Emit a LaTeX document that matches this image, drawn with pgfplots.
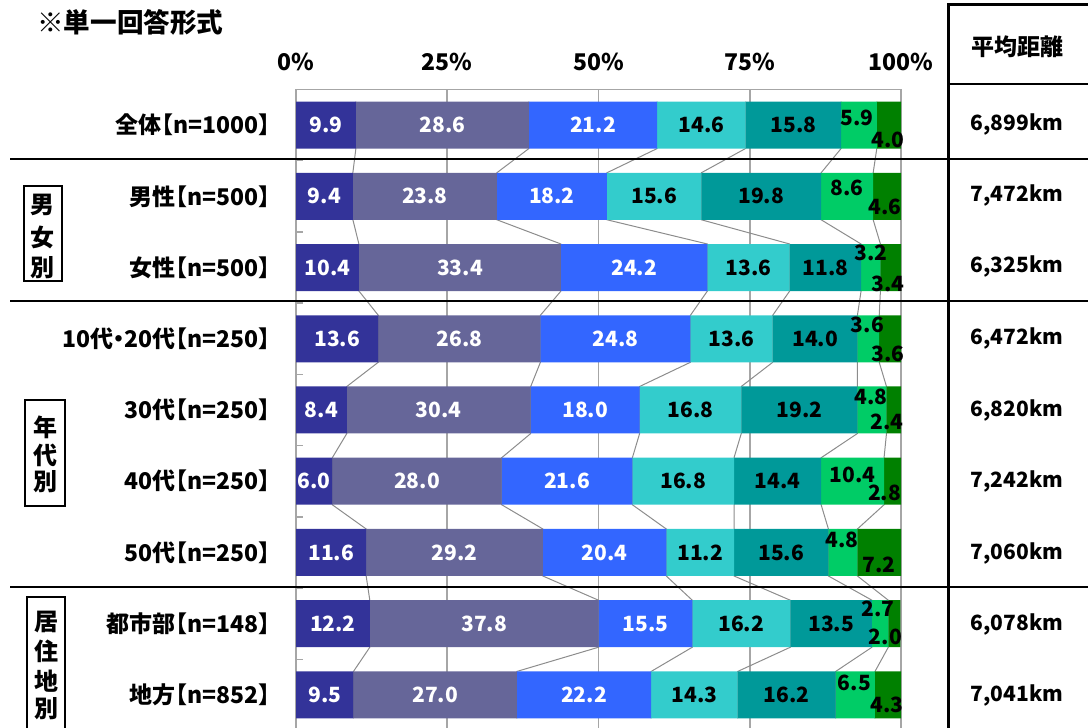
\documentclass[border=0pt]{standalone}
\usepackage{fontspec}
\setmainfont{Noto Sans CJK JP}
\usepackage{pgfplots}
\usepackage{pgfplotstable}
\pgfplotsset{compat=1.18}

\definecolor{c1}{HTML}{333399}
\definecolor{c2}{HTML}{666699}
\definecolor{c3}{HTML}{3366FF}
\definecolor{c4}{HTML}{33CCCC}
\definecolor{c5}{HTML}{009999}
\definecolor{c6}{HTML}{00CC66}
\definecolor{c7}{HTML}{008000}
\definecolor{framegray}{HTML}{A6A6A6}
\definecolor{linkgray}{HTML}{8C8C8C}

% narrow brackets / dot, as in the proportional original
\newcommand\lb{\makebox[0.55em][r]{【}}
\newcommand\rb{\makebox[0.55em][l]{】}}
\newcommand\nd{\makebox[0.45em][c]{・}}

% shares (%) per row; fdx..gdy = label offsets (px) of the two small segments
\pgfplotstableread{
row a    b    c    d    e    f    g   fdx fdy gdx gdy
1   9.9  28.6 21.2 14.6 15.8 5.9  4.0 -2  -7  -1  15
2   9.4  23.8 18.2 15.6 19.8 8.6  4.6  0  -8  -2  11
3   10.4 33.4 24.2 13.6 11.8 3.2  3.4  0  -15 -3  16
4   13.6 26.8 24.8 13.6 14.0 3.6  3.6 -1  -14 -2  15
5   8.4  30.4 18.0 16.8 19.2 4.8  2.4 -1  -13 -7  12
6   6.0  28.0 21.6 16.8 14.4 10.4 2.8  0  -6  -8  12
7   11.6 29.2 20.4 11.2 15.6 4.8  7.2 -1  -13  0  12
8   12.2 37.8 15.5 16.2 13.5 2.7  2.0 -2  -15 -9  13
9   9.5  27.0 22.2 14.3 16.2 6.5  4.3 -1  -12 -1  10
}\shares

% segment boundaries (cumulative %), at the lower and upper edge of each bar
\pgfplotstableread{
y    b1   b2   b3   b4   b5   b6
0.67 9.9  38.5 59.7 74.3 90.1 96.0
1.33 9.9  38.5 59.7 74.3 90.1 96.0
1.67 9.4  33.2 51.4 67.0 86.8 95.4
2.33 9.4  33.2 51.4 67.0 86.8 95.4
2.67 10.4 43.8 68.0 81.6 93.4 96.6
3.33 10.4 43.8 68.0 81.6 93.4 96.6
3.67 13.6 40.4 65.2 78.8 92.8 96.4
4.33 13.6 40.4 65.2 78.8 92.8 96.4
4.67 8.4  38.8 56.8 73.6 92.8 97.6
5.33 8.4  38.8 56.8 73.6 92.8 97.6
5.67 6.0  34.0 55.6 72.4 86.8 97.2
6.33 6.0  34.0 55.6 72.4 86.8 97.2
6.67 11.6 40.8 61.2 72.4 88.0 92.8
7.33 11.6 40.8 61.2 72.4 88.0 92.8
7.67 12.2 50.0 65.5 81.7 95.2 97.9
8.33 12.2 50.0 65.5 81.7 95.2 97.9
8.67 9.5  36.5 58.7 73.0 89.2 95.7
9.33 9.5  36.5 58.7 73.0 89.2 95.7
}\bounds

\tikzset{lblfont/.style={font=\bfseries\fontsize{11.5}{12}\selectfont}}
\pgfplotsset{
  panel/.style={
    at={(148pt,319.3pt)}, anchor=north west,
    scale only axis, width=302.5pt, height=320.6pt,
    xmin=0, xmax=100, ymin=0.5, ymax=9.5, y dir=reverse,
  },
}

\begin{document}
\begin{tikzpicture}
% frame, grid, tick labels and connector lines
\begin{axis}[panel,
    axis line style={framegray, line width=0.8pt},
    xtick={0,25,50,75,100},
    xticklabel pos=upper,
    xmajorgrids, major grid style={framegray, line width=0.8pt},
    major tick length=0pt,
    /pgf/number format/assume math mode=true,
    xticklabel={\pgfmathprintnumber{\tick}\%},
    xticklabel style={lblfont, anchor=center, yshift=13.7pt},
    ytick={1,...,9},
    yticklabels={全体\lb n=1000\rb, 男性\lb n=500\rb, 女性\lb n=500\rb, 10代\nd 20代\lb n=250\rb,
      30代\lb n=250\rb, 40代\lb n=250\rb, 50代\lb n=250\rb, 都市部\lb n=148\rb, 地方\lb n=852\rb},
    yticklabel style={lblfont, anchor=east, inner sep=0pt, xshift=-12pt},
    ytick pos=left,
    extra y ticks={1.5,2.5,...,8.5},
    extra y tick labels={},
    extra y tick style={major tick length=3.5pt, tick align=inside,
      tick style={framegray, line width=0.8pt}},
  ]
  \pgfplotsinvokeforeach{b1,b2,b3,b4,b5,b6}{
    \addplot[linkgray, line width=0.5pt, mark=none] table[x=#1, y=y]{\bounds};
  }
\end{axis}

% stacked bars
\begin{axis}[panel, hide axis,
    xbar stacked, bar width=23.5pt,
    point meta=explicit,
    nodes near coords={\pgfmathprintnumber[fixed, fixed zerofill, precision=1, assume math mode=true]{\pgfplotspointmeta}},
    every node near coord/.append style={font=\bfseries\fontsize{10.5}{11}\selectfont, anchor=center, inner sep=0pt},
  ]
  \addplot[fill=c1, draw=none, every node near coord/.append style={white}] table[x=a, y=row, meta=a]{\shares};
  \addplot[fill=c2, draw=none, every node near coord/.append style={white}] table[x=b, y=row, meta=b]{\shares};
  \addplot[fill=c3, draw=none, every node near coord/.append style={white}] table[x=c, y=row, meta=c]{\shares};
  \addplot[fill=c4, draw=none, every node near coord/.append style={black}] table[x=d, y=row, meta=d]{\shares};
  \addplot[fill=c5, draw=none, every node near coord/.append style={black}] table[x=e, y=row, meta=e]{\shares};
  \addplot[fill=c6, draw=none,
    visualization depends on={\thisrow{fdx} \as \ddx},
    visualization depends on={\thisrow{fdy} \as \ddy},
    every node near coord/.append style={black, xshift={0.5pt*(\ddx)}, yshift={-0.5pt*(\ddy)}}]
    table[x=f, y=row, meta=f]{\shares};
  \addplot[fill=c7, draw=none,
    visualization depends on={\thisrow{gdx} \as \ddx},
    visualization depends on={\thisrow{gdy} \as \ddy},
    every node near coord/.append style={black, xshift={0.5pt*(\ddx)}, yshift={-0.5pt*(\ddy)}}]
    table[x=g, y=row, meta=g]{\shares};
\end{axis}

% page layout in pixel units, origin top left
\begin{scope}[x=0.5pt, y=-0.5pt, shift={(0pt,364pt)}]
  \node[font=\bfseries\fontsize{13.3}{14}\selectfont, anchor=west, inner sep=0pt] at (37,22) {※単一回答形式};

  \draw[line width=0.8pt] (10,159) -- (1090,159);
  \draw[line width=0.8pt] (10,301) -- (1090,301);
  \draw[line width=0.8pt] (10,587) -- (1090,587);

  \draw[line width=1.5pt] (948,5) -- (948,740);
  \draw[line width=1.5pt] (947.3,5) -- (1090,5);
  \draw[line width=1pt] (948,84) -- (1090,84);

  \node[font=\bfseries\fontsize{11.5}{12}\selectfont] at (1017,47) {平均距離};
  \begin{scope}[font=\bfseries\fontsize{10.5}{11}\selectfont]
    \node at (1017,125) {6,899km};
    \node at (1017,196) {7,472km};
    \node at (1017,267) {6,325km};
    \node at (1017,339) {6,472km};
    \node at (1017,410) {6,820km};
    \node at (1017,481) {7,242km};
    \node at (1017,553) {7,060km};
    \node at (1017,624) {6,078km};
    \node at (1017,695) {7,041km};
  \end{scope}

  \begin{scope}[font=\bfseries\fontsize{12}{12}\selectfont]
    \draw[line width=0.8pt] (24,186) rectangle (62,281);
    \node at (43,205) {男};
    \node at (43,237) {女};
    \node at (43,268) {別};
    \draw[line width=0.8pt] (25,400) rectangle (65,506);
    \node at (45,427) {年};
    \node at (45,455) {代};
    \node at (45,482) {別};
    \draw[line width=0.8pt] (27,597) rectangle (65,740);
    \node at (46,622) {居};
    \node at (46,651) {住};
    \node at (46,681) {地};
    \node at (46,709) {別};
  \end{scope}
\end{scope}

\pgfresetboundingbox
\path[use as bounding box] (0,0) rectangle (544pt,364pt);
\end{tikzpicture}
\end{document}
